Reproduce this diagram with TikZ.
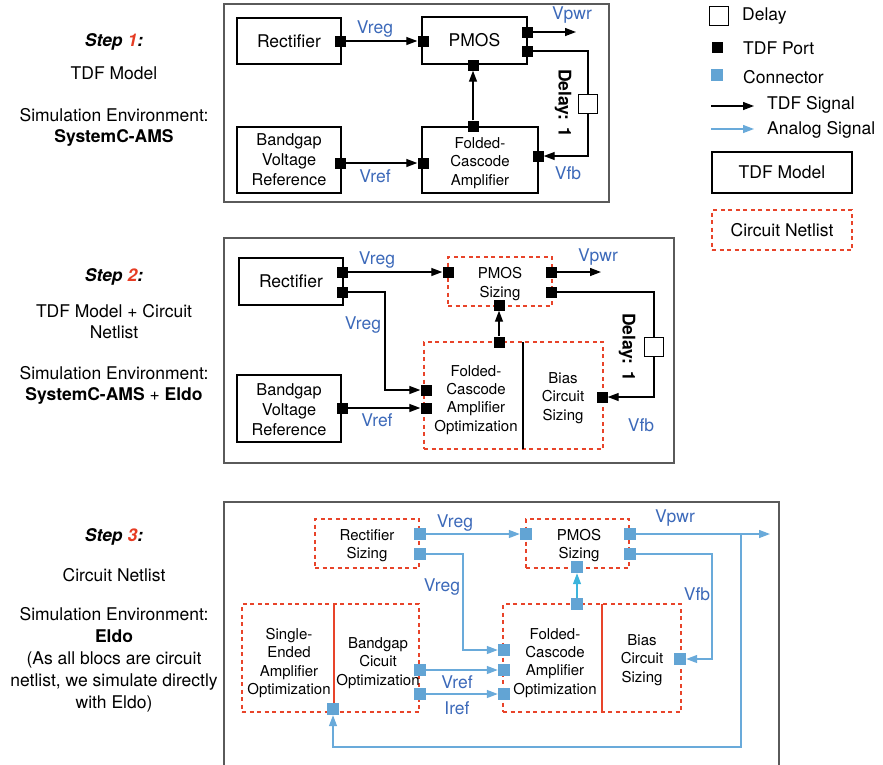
\documentclass[tikz,border=0pt]{standalone}
\usepackage{fontspec}
\setmainfont{TeX Gyre Heros}
\usetikzlibrary{arrows.meta}
\definecolor{lblblue}{RGB}{60,105,185}
\definecolor{connblue}{RGB}{98,164,212}
\definecolor{anablue}{RGB}{105,170,218}
\definecolor{cyanarr}{RGB}{60,180,220}
\definecolor{netred}{RGB}{232,68,42}
\definecolor{stepred}{RGB}{230,60,35}
\definecolor{framegray}{RGB}{90,90,90}
\newcommand{\bigf}{\fontsize{17.5}{21}\selectfont}
\newcommand{\medf}{\fontsize{16.3}{20}\selectfont}
\newcommand{\smlf}{\fontsize{15}{18.3}\selectfont}
\tikzset{
  tdfbox/.style={draw=black, line width=1.3pt, rectangle, align=center, inner sep=0pt, font=\bigf},
  netbox/.style={draw=netred, line width=1.8pt, dash pattern=on 4pt off 3.5pt, rectangle, align=center, inner sep=0pt, font=\smlf},
  tport/.style={fill=black, minimum size=11pt, inner sep=0pt},
  cport/.style={fill=connblue, minimum size=12pt, inner sep=0pt},
  tdfsig/.style={draw=black, line width=1.3pt, -{Triangle[length=11pt,width=8pt]}},
  tdfline/.style={draw=black, line width=1.3pt},
  anasig/.style={draw=anablue, line width=1.3pt, -{Triangle[length=11pt,width=8pt]}},
  lbl/.style={text=lblblue, font=\bigf, inner sep=0pt},
  frame/.style={draw=framegray, line width=1.4pt},
  dlybox/.style={draw=black, fill=white, line width=1.3pt, minimum size=19pt, inner sep=0pt},
  dlytxt/.style={font=\bigf\bfseries, rotate=-90, inner sep=0pt},
  txt/.style={align=center, inner sep=0pt},
  divred/.style={draw=netred, line width=1.4pt},
}
\begin{document}
\begin{tikzpicture}[x=1pt,y=-1pt]
\useasboundingbox (0,0) rectangle (883,764);

% ---------------- left column ----------------
\node[txt, font=\bigf] (s1a) at (114,42) {\bfseries\itshape Step \textcolor{stepred}{1}:};
\node[txt, font=\bigf] (s1b) at (114,73) {TDF Model};
\node[txt, font=\bigf] (s1c) at (114,127) {Simulation Environment:\\\bfseries SystemC-AMS};

\node[txt, font=\bigf] (s2a) at (114,277) {\bfseries\itshape Step \textcolor{stepred}{2}:};
\node[txt, font=\bigf] (s2b) at (114,322) {TDF Model + Circuit\\Netlist};
\node[txt, font=\bigf] (s2c) at (114,385) {Simulation Environment:\\\textbf{SystemC-AMS} + \textbf{Eldo}};

\node[txt, font=\bigf] (s3a) at (114,537) {\bfseries\itshape Step \textcolor{stepred}{3}:};
\node[txt, font=\bigf] (s3b) at (114,575) {Circuit Netlist};
\node[txt, font=\fontsize{17.5}{22}\selectfont] (s3c) at (114,660) {Simulation Environment:\\\textbf{Eldo}\\(As all blocs are circuit\\netlist, we simulate directly\\with Eldo)};

% ---------------- frames ----------------
\draw[frame] (224,4) rectangle (609,202);
\draw[frame] (224,238) rectangle (674,463);
\draw[frame] (224,790) -- (224,502) -- (779,502) -- (779,790);

% ---------------- legend ----------------
\node[dlybox] (legd) at (719,16) {};
\node[anchor=west, font=\bigf, inner sep=0pt] (legdt) at (742,16) {Delay};
\node[tport] (legt) at (717,47) {};
\node[anchor=west, font=\bigf, inner sep=0pt] (legtt) at (743,48) {TDF Port};
\node[cport] (legc) at (717,75) {};
\node[anchor=west, font=\bigf, inner sep=0pt] (legct) at (743,77) {Connector};
\coordinate (ls1a) at (711,106); \coordinate (ls1b) at (754,106);
\draw[tdfsig] (ls1a) -- (ls1b);
\node[anchor=west, font=\bigf, inner sep=0pt] (ls1t) at (767,105) {TDF Signal};
\coordinate (ls2a) at (711,129); \coordinate (ls2b) at (754,129);
\draw[anasig] (ls2a) -- (ls2b);
\node[anchor=west, font=\bigf, inner sep=0pt] (ls2t) at (767,130) {Analog Signal};
\node[tdfbox, minimum width=140pt, minimum height=41pt] (legm) at (782,172.5) {TDF Model};
\node[netbox, font=\bigf, minimum width=140pt, minimum height=40pt] (legn) at (782,230) {Circuit Netlist};

% ---------------- step 1 ----------------
\node[tdfbox, minimum width=104pt, minimum height=46pt] (rect1) at (289,41) {Rectifier};
\node[tdfbox, minimum width=105pt, minimum height=47pt] (pmos1) at (474.5,40.5) {PMOS};
\node[tdfbox, font=\medf, minimum width=104pt, minimum height=66pt] (bg1) at (289,160) {Bandgap\\Voltage\\Reference};
\node[tdfbox, minimum width=116pt, minimum height=66pt] (amp1) at (480,160) {};
\node[txt, font=\fontsize{15}{18.5}\selectfont] (amp1t) at (480,163) {Folded-\\Cascode\\Amplifier};

\node[tport] (r1o) at (340,41) {};
\node[tport] (p1i) at (423,41) {};
\node[tport] (p1o1) at (527,32) {};
\node[tport] (p1o2) at (527,51) {};
\node[tport] (p1b) at (473,65) {};
\node[tport] (b1o) at (340,163) {};
\node[tport] (a1i) at (423,163) {};
\node[tport] (a1t) at (473,126) {};
\node[tport] (a1r) at (538,156) {};
\node[dlybox] (d1) at (588,104) {};
\coordinate (vpwr1) at (576,32);

\draw[tdfsig] (r1o) -- (p1i);
\draw[tdfsig] (p1o1) -- (vpwr1);
\draw[tdfsig] (a1t) -- (p1b);
\draw[tdfsig] (b1o) -- (a1i);
\draw[tdfline] (p1o2) -| (d1);
\draw[tdfsig] (d1) |- (a1r);

\node[lbl] (l1a) at (375,29) {Vreg};
\node[lbl] (l1b) at (572,15) {Vpwr};
\node[lbl] (l1c) at (375,176) {Vref};
\node[lbl] (l1d) at (568,173) {Vfb};
\node[dlytxt] (l1e) at (563,103) {Delay: 1};

% ---------------- step 2 ----------------
\node[tdfbox, minimum width=104pt, minimum height=47pt] (rect2) at (291,281.5) {Rectifier};
\node[netbox, minimum width=104pt, minimum height=49pt] (pmos2) at (500,281.5) {};
\node[txt, font=\smlf] (pmos2t) at (500,284) {PMOS\\Sizing};
\node[tdfbox, minimum width=104pt, minimum height=67pt] (bg2) at (289,408.5) {};
\node[txt, font=\medf] (bg2t) at (289,410) {Bandgap\\Voltage\\Reference};
\node[netbox, minimum width=179pt, minimum height=107pt] (fa2) at (513.5,395.5) {};
\coordinate (dv2t) at (523,342); \coordinate (dv2b) at (523,449);
\draw[tdfline] (dv2t) -- (dv2b);
\node[txt, font=\smlf] (fa2t) at (476,400) {Folded-\\Cascode\\Amplifier\\Optimization};
\node[txt, font=\smlf] (bi2t) at (563,398) {Bias\\Circuit\\Sizing};

\node[tport] (r2o1) at (342,272) {};
\node[tport] (r2o2) at (342,292) {};
\node[tport] (p2i) at (448,272) {};
\node[tport] (p2o1) at (551,272) {};
\node[tport] (p2o2) at (551,292) {};
\node[tport] (p2b) at (499,305) {};
\node[tport] (b2o) at (342,408) {};
\node[tport] (f2i1) at (426,390) {};
\node[tport] (f2i2) at (426,408) {};
\node[tport] (f2t) at (499,342) {};
\node[tport] (bias2) at (602,397) {};
\node[dlybox] (d2) at (654,347) {};
\coordinate (vpwr2) at (601,272);
\coordinate (vr2bend) at (385,390);

\draw[tdfsig] (r2o1) -- (p2i);
\draw[tdfsig] (p2o1) -- (vpwr2);
\draw[tdfsig] (r2o2) -| (vr2bend) -- (f2i1);
\draw[tdfsig] (b2o) -- (f2i2);
\draw[tdfsig] (f2t) -- (p2b);
\draw[tdfline] (p2o2) -| (d2);
\draw[tdfsig] (d2) |- (bias2);

\node[lbl] (l2a) at (377,260) {Vreg};
\node[lbl] (l2b) at (363,325) {Vreg};
\node[lbl] (l2c) at (598,257) {Vpwr};
\node[lbl] (l2d) at (377,420) {Vref};
\node[lbl] (l2e) at (641,425) {Vfb};
\node[dlytxt] (l2f) at (627,347) {Delay: 1};

% ---------------- step 3 ----------------
\node[netbox, minimum width=104pt, minimum height=49pt] (rs3) at (367,543.5) {};
\node[txt, font=\smlf] (rs3t) at (367,545.5) {Rectifier\\Sizing};
\node[netbox, minimum width=103pt, minimum height=49pt] (ps3) at (577.5,543.5) {};
\node[txt, font=\smlf] (ps3t) at (579,545.5) {PMOS\\Sizing};
\node[netbox, minimum width=177pt, minimum height=108pt] (sb3) at (330.5,658) {};
\node[netbox, minimum width=178pt, minimum height=108pt] (fb3) at (592,658) {};
\coordinate (dv3at) at (334,604); \coordinate (dv3ab) at (334,709);
\coordinate (dv3bt) at (602,604); \coordinate (dv3bb) at (602,712);
\draw[divred] (dv3at) -- (dv3ab);
\draw[divred] (dv3bt) -- (dv3bb);
\node[txt, font=\smlf] (se3t) at (289,663) {Single-\\Ended\\Amplifier\\Optimization};
\node[txt, font=\smlf] (bg3t) at (378,663) {Bandgap\\Cicuit\\Optimization};
\node[txt, font=\smlf] (fa3t) at (555,663) {Folded-\\Cascode\\Amplifier\\Optimization};
\node[txt, font=\smlf] (bi3t) at (642,660) {Bias\\Circuit\\Sizing};

\node[cport] (rs3o1) at (420,534) {};
\node[cport] (rs3o2) at (420,554) {};
\node[cport] (ps3i) at (526,534) {};
\node[cport] (ps3o1) at (630,534) {};
\node[cport] (ps3o2) at (630,554) {};
\node[cport] (ps3b) at (577,567) {};
\node[cport] (f3i1) at (504,650) {};
\node[cport] (f3i2) at (504,670) {};
\node[cport] (f3i3) at (504,694) {};
\node[cport] (f3t) at (577,604) {};
\node[cport] (bias3) at (680,659) {};
\node[cport] (bg3o1) at (420,670) {};
\node[cport] (bg3o2) at (420,694) {};
\node[cport] (se3b) at (333,709) {};
\coordinate (vpwr3) at (770,534);
\coordinate (vr3bend) at (463,650);
\coordinate (vfb3c) at (712,659);
\coordinate (br3) at (741,534);
\coordinate (lp3) at (537,747);

\draw[anasig] (rs3o1) -- (ps3i);
\draw[anasig] (ps3o1) -- (vpwr3);
\draw[anasig] (rs3o2) -| (vr3bend) -- (f3i1);
\draw[anasig] (bg3o1) -- (f3i2);
\draw[anasig] (bg3o2) -- (f3i3);
\draw[anasig, draw=cyanarr] (f3t) -- (ps3b);
\draw[anasig] (ps3o2) -| (vfb3c) -- (bias3);
\draw[anasig] (br3) |- (lp3) -| (se3b);

\node[lbl] (l3a) at (455,523) {Vreg};
\node[lbl] (l3b) at (442,587) {Vreg};
\node[lbl] (l3c) at (675,518) {Vpwr};
\node[lbl] (l3d) at (457,682) {Vref};
\node[lbl] (l3e) at (457,708) {Iref};
\node[lbl] (l3f) at (697,594) {Vfb};
\end{tikzpicture}
\end{document}
